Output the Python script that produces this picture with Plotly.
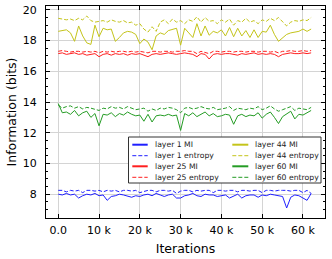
import plotly.graph_objects as go

iterations = [i * 1000 for i in range(63)]

l1_mi = [8.0, 7.95, 8.05, 7.95, 8.0, 7.75, 7.9, 8.0, 7.95, 8.05, 7.9, 7.95, 7.6, 7.85, 7.9, 8.0, 7.95, 7.85, 7.8, 7.9, 7.85, 7.95, 8.0, 7.9, 8.05, 7.95, 7.85, 7.95, 8.0, 7.75, 7.75, 7.9, 7.95, 8.05, 7.9, 7.85, 8.0, 7.95, 7.95, 7.85, 7.9, 7.95, 7.75, 7.9, 8.0, 7.75, 7.9, 7.95, 7.95, 7.8, 7.95, 7.9, 8.0, 7.95, 7.9, 7.85, 7.1, 7.8, 7.95, 7.9, 7.75, 7.6, 8.05]
l1_ent = [8.25, 8.25, 8.15, 8.25, 8.2, 8.25, 8.1, 8.25, 8.25, 8.2, 8.25, 8.15, 8.25, 8.2, 8.25, 8.15, 8.25, 8.25, 8.2, 8.25, 8.1, 8.2, 8.25, 8.25, 8.15, 8.25, 8.25, 8.2, 8.25, 8.05, 8.2, 8.25, 8.25, 8.15, 8.25, 8.2, 8.25, 8.25, 8.1, 8.25, 8.25, 8.2, 8.25, 8.25, 8.15, 8.25, 8.25, 8.2, 8.25, 8.25, 8.1, 8.25, 8.25, 8.2, 8.25, 8.25, 8.25, 8.2, 8.25, 8.25, 8.1, 8.25, 8.05]
l25_mi = [17.15, 17.2, 17.1, 17.15, 17.2, 17.1, 17.15, 17.05, 17.1, 17.15, 16.95, 17.1, 17.15, 17.05, 17.15, 17.1, 17.15, 17.05, 17.15, 17.1, 17.15, 17.05, 16.95, 17.1, 17.15, 17.1, 17.15, 17.2, 17.15, 17.1, 17.15, 17.2, 17.15, 17.1, 16.95, 17.15, 17.1, 16.8, 17.1, 17.15, 17.1, 17.15, 17.15, 17.1, 17.05, 17.15, 17.1, 17.15, 17.2, 17.1, 17.15, 17.1, 17.15, 17.1, 16.95, 17.1, 17.15, 17.2, 17.15, 17.15, 17.2, 17.15, 17.2]
l25_ent = [17.3, 17.35, 17.3, 17.25, 17.3, 17.3, 17.25, 17.3, 17.25, 17.3, 17.2, 17.3, 17.25, 17.3, 17.25, 17.3, 17.3, 17.25, 17.3, 17.25, 17.3, 17.25, 17.2, 17.3, 17.3, 17.25, 17.3, 17.3, 17.25, 17.3, 17.3, 17.35, 17.3, 17.3, 17.15, 17.3, 17.25, 17.15, 17.3, 17.3, 17.25, 17.3, 17.3, 17.25, 17.3, 17.3, 17.25, 17.3, 17.3, 17.25, 17.3, 17.3, 17.25, 17.3, 17.2, 17.3, 17.3, 17.35, 17.3, 17.3, 17.35, 17.3, 17.35]
l44_mi = [18.6, 18.65, 18.7, 18.5, 17.95, 18.95, 18.3, 17.85, 17.75, 19.0, 18.25, 18.8, 18.7, 18.75, 17.95, 18.2, 18.5, 18.6, 18.55, 18.4, 17.8, 18.1, 17.9, 17.4, 18.3, 18.5, 18.4, 18.65, 18.75, 18.8, 17.7, 18.8, 18.5, 18.2, 19.1, 18.3, 18.95, 18.35, 18.6, 18.5, 18.7, 18.3, 18.85, 18.25, 18.8, 18.3, 18.65, 18.2, 18.7, 18.2, 18.6, 18.55, 19.0, 18.4, 17.95, 18.2, 18.4, 18.5, 18.55, 18.6, 18.75, 18.6, 18.75]
l44_ent = [19.45, 19.4, 19.35, 19.4, 19.3, 19.45, 19.35, 19.6, 19.3, 19.2, 19.25, 19.3, 19.2, 19.35, 19.25, 19.2, 19.3, 19.15, 19.2, 19.0, 19.1, 18.75, 18.55, 18.9, 18.6, 19.2, 19.35, 19.1, 19.4, 19.2, 19.3, 19.1, 19.35, 19.25, 19.55, 19.2, 19.5, 19.25, 19.3, 19.1, 19.35, 19.2, 19.4, 19.0, 19.3, 19.2, 19.45, 19.2, 19.3, 19.1, 19.35, 19.25, 19.45, 19.3, 19.5, 19.25, 18.95, 19.2, 19.3, 19.25, 19.35, 19.3, 19.5]
l60_mi = [13.9, 13.3, 13.35, 13.2, 13.45, 13.1, 13.3, 13.4, 13.0, 13.25, 12.45, 13.2, 13.15, 13.3, 13.05, 13.25, 13.15, 13.35, 13.2, 13.1, 13.15, 12.75, 13.2, 12.7, 13.1, 13.15, 13.1, 13.2, 13.1, 13.15, 12.15, 13.25, 13.1, 13.3, 13.05, 13.2, 13.35, 13.1, 13.25, 13.05, 13.1, 13.2, 13.15, 12.55, 13.1, 13.2, 13.05, 13.15, 13.1, 13.3, 12.95, 13.2, 13.35, 13.0, 12.6, 13.05, 13.2, 13.4, 12.9, 13.2, 13.15, 13.3, 13.45]
l60_ent = [13.8, 13.6, 13.7, 13.75, 13.6, 13.7, 13.55, 13.65, 13.6, 13.5, 13.45, 13.6, 13.55, 13.7, 13.6, 13.65, 13.55, 13.7, 13.6, 13.5, 13.55, 13.6, 13.4, 13.55, 13.45, 13.6, 13.55, 13.65, 13.6, 13.5, 13.3, 13.6, 13.65, 13.55, 13.6, 13.7, 13.6, 13.55, 13.65, 13.5, 13.55, 13.6, 13.7, 13.45, 13.6, 13.55, 13.5, 13.6, 13.55, 13.7, 13.5, 13.6, 13.75, 13.55, 13.4, 13.5, 13.6, 13.7, 13.45, 13.6, 13.55, 13.5, 13.65]

series_names = ["layer 1 MI", "layer 1 entropy", "layer 25 MI", "layer 25 entropy",
                "layer 44 MI", "layer 44 entropy", "layer 60 MI", "layer 60 entropy"]
series_values = [l1_mi, l1_ent, l25_mi, l25_ent, l44_mi, l44_ent, l60_mi, l60_ent]
series_colors = ["#1f1fff", "#1f1fff", "#ff1f1f", "#ff1f1f", "#c4c41a", "#c4c41a", "#249c24", "#249c24"]
series_dash = ["solid", "4px,2px"] * 4

x_tickvals = [0, 10000, 20000, 30000, 40000, 50000, 60000]
x_ticktext = ["0.0", "10 k", "20 k", "30 k", "40 k", "50 k", "60 k"]
y_tickvals = [8, 10, 12, 14, 16, 18, 20]

W, H = 332, 259
ML, MR, MT, MB = 46, 7, 6, 41
PW, PH = W - ML - MR, H - MT - MB

fig = go.Figure()
for name, vals, col, dash in zip(series_names, series_values, series_colors, series_dash):
    fig.add_trace(go.Scatter(x=iterations, y=vals, mode="lines", name=name,
                             line=dict(color=col, width=1, dash=dash), showlegend=False))

def px(x):
    return (x - ML) / PW

def py(y):
    return (H - MB - y) / PH

shapes = []
annotations = []
# legend frame
shapes.append(dict(type="rect", xref="paper", yref="paper", x0=px(128.5), x1=px(321), y0=py(183), y1=py(137),
                   line=dict(color="#333333", width=1), fillcolor="white", layer="above"))
rows = [144.7, 155.7, 166.3, 177.3]
cols = [(132.3, 147.7, 154.3), (232.3, 248.3, 254.3)]
for i, (name, col, dash) in enumerate(zip(series_names, series_colors, series_dash)):
    c = cols[i // 4]
    r = rows[i % 4]
    shapes.append(dict(type="line", xref="paper", yref="paper", x0=px(c[0]), x1=px(c[1]), y0=py(r), y1=py(r),
                       line=dict(color=col, width=2 if dash == "solid" else 1, dash=dash), layer="above"))
    annotations.append(dict(xref="paper", yref="paper", x=px(c[2]), y=py(r), text=name, showarrow=False,
                            xanchor="left", yanchor="middle", xshift=-1,
                            font=dict(size=7.7, color="#222222", family="DejaVu Sans")))

axis_common = dict(showline=True, linecolor="black", linewidth=1, mirror="ticks", ticks="inside",
                   tickcolor="black", showgrid=True, gridcolor="#d4d4d4", gridwidth=1.3, zeroline=False,
                   automargin=False,
                   tickfont=dict(size=11, color="black", family="DejaVu Sans"))

fig.update_layout(
    width=W, height=H, margin=dict(l=ML, r=MR, t=MT, b=MB, autoexpand=False),
    paper_bgcolor="white", plot_bgcolor="white",
    font=dict(family="DejaVu Sans", color="black"),
    shapes=shapes, annotations=annotations,
    xaxis=dict(range=[-3000, 65400], tickvals=x_tickvals, ticktext=x_ticktext, ticklen=4,
               ticklabelstandoff=2,
               title=dict(text="Iterations", font=dict(size=12.5), standoff=8),
               minor=dict(ticks="", showgrid=False), **axis_common),
    yaxis=dict(range=[6.45, 20.25], tickvals=y_tickvals, ticklen=4, ticklabelstandoff=6,
               title=dict(text="Information (bits)", font=dict(size=12.5), standoff=3),
               minor=dict(ticks="inside", ticklen=2, dtick=0.5, tick0=0, tickcolor="black", showgrid=False),
               **axis_common),
)

fig.write_html("out.html", config={"displayModeBar": False},
               post_script="document.body.style.margin='0';document.body.style.overflow='hidden';")
